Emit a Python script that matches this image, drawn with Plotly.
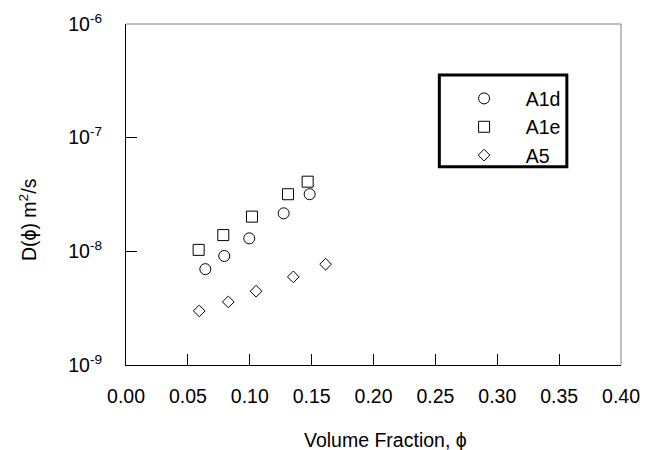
import plotly.graph_objects as go

# Data
a1d_phi = [0.0641, 0.0794, 0.0996, 0.1274, 0.1484]
a1d_D = [6.97e-9, 9.1e-9, 1.30e-8, 2.16e-8, 3.18e-8]

a1e_phi = [0.0587, 0.0786, 0.1018, 0.1309, 0.1468]
a1e_D = [1.03e-8, 1.39e-8, 2.02e-8, 3.18e-8, 4.1e-8]

a5_phi = [0.0592, 0.0827, 0.1051, 0.1352, 0.1613]
a5_D = [2.99e-9, 3.59e-9, 4.46e-9, 5.96e-9, 7.7e-9]

y_tickvals = [1e-9, 1e-8, 1e-7, 1e-6]
y_ticktext = ["10<sup>-9</sup>", "10<sup>-8</sup>", "10<sup>-7</sup>", "10<sup>-6</sup>"]
x_tickvals = [0.00, 0.05, 0.10, 0.15, 0.20, 0.25, 0.30, 0.35, 0.40]

FONT = "Liberation Sans, Arial, sans-serif"
FS = 19.5
mk_line = dict(color="black", width=1)

fig = go.Figure()
fig.add_trace(go.Scatter(x=a1d_phi, y=a1d_D, mode="markers", name="\u00a0\u00a0\u00a0\u00a0A1d",
                         marker=dict(symbol="circle-open", size=11, color="black", line=mk_line)))
fig.add_trace(go.Scatter(x=a1e_phi, y=a1e_D, mode="markers", name="\u00a0\u00a0\u00a0\u00a0A1e",
                         marker=dict(symbol="square-open", size=11, color="black", line=mk_line)))
fig.add_trace(go.Scatter(x=a5_phi, y=a5_D, mode="markers", name="\u00a0\u00a0\u00a0\u00a0A5",
                         marker=dict(symbol="diamond-open", size=9, color="black", line=mk_line)))

fig.update_layout(
    width=648, height=450,
    margin=dict(l=118, r=35, t=16, b=93),
    paper_bgcolor="white", plot_bgcolor="white",
    font=dict(family=FONT, size=FS, color="black"),
    showlegend=True,
    legend=dict(x=0.683, y=0.838, xanchor="left", yanchor="top",
                bgcolor="rgba(0,0,0,0)", borderwidth=0,
                font=dict(size=FS), tracegroupgap=0),
    xaxis=dict(range=[0, 0.4], tickvals=x_tickvals, tickformat=".2f",
               ticks="inside", ticklen=11, tickcolor="black", tickwidth=1,
               showline=True, linecolor="black", linewidth=1, mirror=False,
               showgrid=False, zeroline=False, automargin=False,
               ticklabelstandoff=14),
    yaxis=dict(type="log", range=[-9, -6], tickvals=y_tickvals, ticktext=y_ticktext,
               ticks="inside", ticklen=11, tickcolor="black", tickwidth=1,
               showline=True, linecolor="black", linewidth=1, mirror=False,
               showgrid=False, zeroline=False, automargin=False,
               ticklabelstandoff=19),
    annotations=[
        dict(text="Volume Fraction, \u03d5", xref="paper", yref="paper", x=0.525, y=-0.22,
             xanchor="center", yanchor="middle", showarrow=False, font=dict(size=FS)),
        dict(text="D(\u03d5) m<sup>2</sup>/s", xref="paper", yref="paper", x=-0.198, y=0.428,
             xanchor="center", yanchor="middle", showarrow=False, textangle=-90,
             font=dict(size=FS)),
    ],
    shapes=[
        dict(type="line", xref="paper", yref="paper", x0=0, x1=1, y0=1, y1=1,
             line=dict(color="#808080", width=1)),
        dict(type="line", xref="paper", yref="paper", x0=1, x1=1, y0=0, y1=1,
             line=dict(color="#808080", width=1)),
        dict(type="rect", xref="paper", yref="paper", x0=0.633, x1=0.8906, y0=0.5815, y1=0.8504,
             line=dict(color="black", width=3), fillcolor="rgba(0,0,0,0)"),
    ],
)

fig.write_html("out.html")
